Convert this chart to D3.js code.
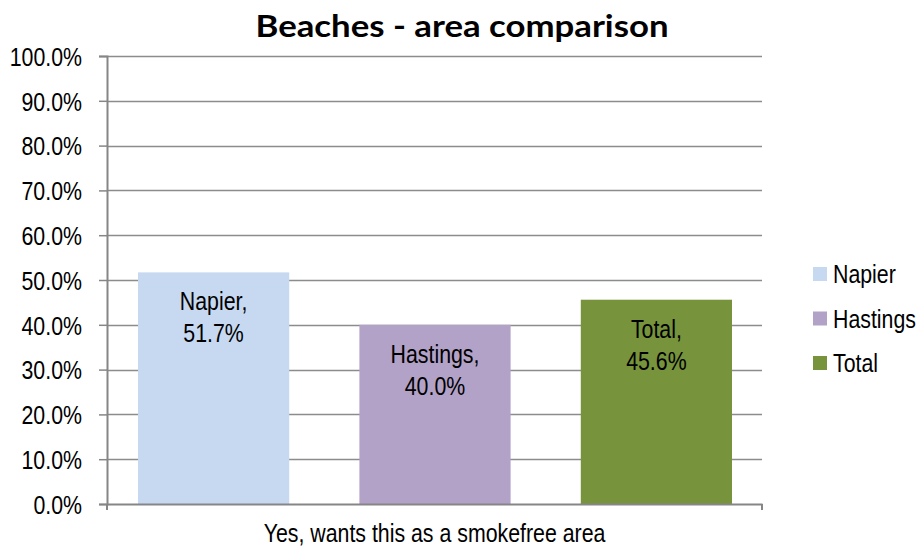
<!DOCTYPE html>
<html>
<head>
<meta charset="utf-8">
<script src="https://cdn.jsdelivr.net/npm/d3@7"></script>
<style>
  body { margin: 0; background: #fff; }
  svg text { font-family: "Liberation Sans", Arial, sans-serif; fill: #000; }
</style>
</head>
<body>
<div id="viz"></div>
<script>
const WIDTH = 920, HEIGHT = 549;
const MARGIN = {top: 56, right: 158, bottom: 45, left: 107};
const NARROW = 0.82; // squeeze Liberation Sans to look like Arial Narrow
const FONT = "26px";

// data
const categories = ["Yes, wants this as a smokefree area"];
const seriesNames = ["Napier", "Hastings", "Total"];
const seriesValues = [0.517, 0.400, 0.456];
const seriesColors = ["#C6D9F1", "#B3A2C7", "#77933C"];
const yTicks = [0, 0.1, 0.2, 0.3, 0.4, 0.5, 0.6, 0.7, 0.8, 0.9, 1.0];

// narrow each text (or its tspans) by shrinking its rendered length
function condense(sel) {
  sel.each(function() {
    const t = d3.select(this);
    const nodes = t.selectAll("tspan").empty() ? [this] : t.selectAll("tspan").nodes();
    nodes.forEach(n => {
      const len = n.getComputedTextLength();
      n.setAttribute("textLength", (len * NARROW).toFixed(1));
      n.setAttribute("lengthAdjust", "spacingAndGlyphs");
    });
  });
}

const svg = d3.select("#viz").append("svg")
  .attr("width", WIDTH)
  .attr("height", HEIGHT);

const innerWidth = WIDTH - MARGIN.left - MARGIN.right;
const innerHeight = HEIGHT - MARGIN.top - MARGIN.bottom;

svg.append("text")
  .attr("x", 462)
  .attr("y", 37)
  .attr("text-anchor", "middle")
  .style("font-family", "Lato, 'Open Sans', sans-serif")
  .style("font-size", "31px")
  .style("font-weight", "bold")
  .attr("textLength", 413)
  .attr("lengthAdjust", "spacingAndGlyphs")
  .text("Beaches - area comparison");

const g = svg.append("g")
  .attr("transform", `translate(${MARGIN.left},${MARGIN.top})`);

const y = d3.scaleLinear().domain([0, 1]).range([innerHeight, 0]);
const x0 = d3.scaleBand().domain(categories).range([0, innerWidth]).padding(0);
const x1 = d3.scaleBand().domain(seriesNames)
  .range([31, x0.bandwidth() - 30])
  .paddingInner(0.317);

// gridlines
g.append("g")
  .selectAll("line")
  .data(yTicks.filter(d => d > 0))
  .join("line")
  .attr("x1", 0)
  .attr("x2", innerWidth)
  .attr("y1", d => Math.round(y(d)) + 0.5)
  .attr("y2", d => Math.round(y(d)) + 0.5)
  .attr("stroke", "#8C8C8C")
  .attr("stroke-width", 1.5);

// bars
const cat = g.append("g").attr("transform", `translate(${x0(categories[0])},0)`);
cat.selectAll("rect")
  .data(seriesNames)
  .join("rect")
  .attr("x", d => x1(d))
  .attr("width", x1.bandwidth())
  .attr("y", (d, i) => y(seriesValues[i]))
  .attr("height", (d, i) => innerHeight - y(seriesValues[i]))
  .attr("fill", (d, i) => seriesColors[i]);

// bar labels
const labels = cat.selectAll("text.lbl")
  .data(seriesNames)
  .join("text")
  .attr("class", "lbl")
  .attr("text-anchor", "middle")
  .style("font-size", FONT);
labels.append("tspan")
  .attr("x", d => x1(d) + x1.bandwidth() / 2)
  .attr("y", (d, i) => y(seriesValues[i]) + 38)
  .text(d => d + ",");
labels.append("tspan")
  .attr("x", d => x1(d) + x1.bandwidth() / 2)
  .attr("y", (d, i) => y(seriesValues[i]) + 70)
  .text((d, i) => d3.format(".1%")(seriesValues[i]));
condense(labels);

// y axis
const yAxis = g.append("g")
  .call(d3.axisLeft(y).tickValues(yTicks).tickFormat(d3.format(".1%")).tickSize(8).tickPadding(17));
yAxis.select(".domain").attr("stroke", "#868686").attr("stroke-width", 2);
yAxis.selectAll(".tick line").attr("stroke", "#868686").attr("stroke-width", 1.5);
yAxis.selectAll(".tick text")
  .style("font-size", FONT)
  .style("font-family", null)
  .attr("dy", "0.36em")
  .call(condense);

// x axis
const xAxis = g.append("g")
  .attr("transform", `translate(0,${innerHeight})`)
  .call(d3.axisBottom(x0).tickSize(0).tickPadding(20));
xAxis.select(".domain").attr("stroke", "#868686").attr("stroke-width", 2);
xAxis.selectAll(".tick text")
  .style("font-size", FONT)
  .style("font-family", null)
  .attr("dy", "0.71em")
  .call(condense);
g.append("g")
  .selectAll("line")
  .data([0, innerWidth])
  .join("line")
  .attr("x1", d => d).attr("x2", d => d)
  .attr("y1", innerHeight).attr("y2", innerHeight + 6)
  .attr("stroke", "#868686").attr("stroke-width", 2);

// legend
const legend = svg.append("g").attr("transform", "translate(813,274)");
const items = legend.selectAll("g")
  .data(seriesNames)
  .join("g")
  .attr("transform", (d, i) => `translate(0,${i * 44.5})`);
items.append("rect")
  .attr("x", 0).attr("y", -7)
  .attr("width", 14).attr("height", 14)
  .attr("fill", (d, i) => seriesColors[i]);
items.append("text")
  .attr("x", 20)
  .attr("dy", "0.36em")
  .style("font-size", FONT)
  .text(d => d)
  .call(condense);
</script>
</body>
</html>
